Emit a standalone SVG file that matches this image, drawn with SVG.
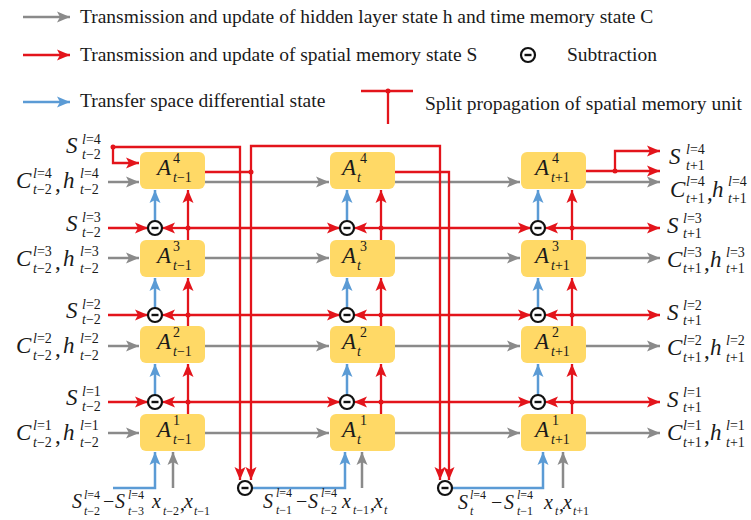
<svg xmlns="http://www.w3.org/2000/svg" width="751" height="520" viewBox="0 0 751 520">
<defs>
<style>
.lg{font-family:"Liberation Serif","Times New Roman",serif;font-size:19.5px;fill:#1a1a1a}
.M{font-family:"Liberation Serif","Times New Roman",serif;font-style:italic;font-size:23px;fill:#1a1a1a}
.Mb{font-family:"Liberation Serif","Times New Roman",serif;font-style:italic;font-size:20px;fill:#1a1a1a}
.s{font-family:"Liberation Serif","Times New Roman",serif;font-size:14px;fill:#1a1a1a}
.sb{font-family:"Liberation Serif","Times New Roman",serif;font-size:12px;fill:#1a1a1a}
.i{font-style:italic}
.n{font-style:normal}
.box{fill:#FFD966}
.r{stroke:#E3141B;stroke-width:2.3;fill:none}
.g{stroke:#8A8A8A;stroke-width:2.5;fill:none}
.b{stroke:#5B9BD5;stroke-width:2.5;fill:none}
.ra{marker-end:url(#aR)}
.ga{marker-end:url(#aG)}
.ba{marker-end:url(#aB)}
.sc{fill:#fff;stroke:#111;stroke-width:2.2}
.mn{stroke:#111;stroke-width:2.4}
.dot{fill:#E3141B}
</style>
<marker id="aR" markerUnits="userSpaceOnUse" markerWidth="13" markerHeight="12" viewBox="0 0 13 12" refX="13" refY="6" orient="auto"><path d="M0,0.5 L13,6 L0,11.5 L3,6 z" fill="#E3141B"/></marker>
<marker id="aG" markerUnits="userSpaceOnUse" markerWidth="13" markerHeight="12" viewBox="0 0 13 12" refX="13" refY="6" orient="auto"><path d="M0,0.5 L13,6 L0,11.5 L3,6 z" fill="#8A8A8A"/></marker>
<marker id="aB" markerUnits="userSpaceOnUse" markerWidth="13" markerHeight="12" viewBox="0 0 13 12" refX="13" refY="6" orient="auto"><path d="M0,0.5 L13,6 L0,11.5 L3,6 z" fill="#5B9BD5"/></marker>
</defs>

<g id="legend">
<path class="g ga" d="M23,17 H70"/>
<text class="lg" x="80" y="23">Transmission and update of hidden layer state h and time memory state C</text>
<path class="r ra" d="M23,55 H70"/>
<text class="lg" x="80" y="61">Transmission and update of spatial memory state S</text>
<circle class="sc" cx="528" cy="55" r="7"/><path class="mn" d="M524.5,55 H531.5"/>
<text class="lg" x="567" y="61">Subtraction</text>
<path class="b ba" d="M23,102 H70"/>
<text class="lg" x="80" y="107">Transfer space differential state</text>
<path class="r" d="M361,91 H413 M388,91 V124"/>
<circle class="dot" cx="388" cy="91" r="2.5"/>
<text class="lg" x="425" y="110">Split propagation of spatial memory unit</text>
</g>

<g id="connectors">
<g id="gray-lines">
<path class="g ga" d="M108,182 H139"/><path class="g ga" d="M205,182 H329"/><path class="g ga" d="M395,182 H520"/><path class="g ga" d="M586,182 H660"/>
<path class="g ga" d="M108,258 H139"/><path class="g ga" d="M205,258 H329"/><path class="g ga" d="M395,258 H520"/><path class="g ga" d="M586,258 H660"/>
<path class="g ga" d="M108,346 H139"/><path class="g ga" d="M205,346 H329"/><path class="g ga" d="M395,346 H520"/><path class="g ga" d="M586,346 H660"/>
<path class="g ga" d="M108,433 H139"/><path class="g ga" d="M205,433 H329"/><path class="g ga" d="M395,433 H520"/><path class="g ga" d="M586,433 H660"/>
<path class="g ga" d="M173,488 V452"/><path class="g ga" d="M362,488 V452"/><path class="g ga" d="M563,488 V452"/>
</g>
<g id="red-lines">
<path class="r ra" d="M113,147 H240 V480"/>
<path class="r ra" d="M113,147 V163 H139"/>
<path class="r" d="M204,172 H251"/>
<path class="r ra" d="M251,172 V480"/>
<path class="r ra" d="M251,172 V146 H440 V480"/>
<path class="r ra" d="M394,172 H449 V480"/>
<path class="r ra" d="M586,171 H660"/>
<path class="r ra" d="M615,171 V151 H660"/>

<path class="r ra" d="M108,228 H148"/><path class="r ra" d="M188,228 H162"/><path class="r ra" d="M188,228 H340"/><path class="r ra" d="M381,228 H354"/><path class="r ra" d="M381,228 H531"/><path class="r ra" d="M572,228 H545"/><path class="r ra" d="M572,228 H660"/>
<path class="r ra" d="M108,315 H148"/><path class="r ra" d="M188,315 H162"/><path class="r ra" d="M188,315 H340"/><path class="r ra" d="M381,315 H354"/><path class="r ra" d="M381,315 H531"/><path class="r ra" d="M572,315 H545"/><path class="r ra" d="M572,315 H660"/>
<path class="r ra" d="M108,402 H148"/><path class="r ra" d="M188,402 H162"/><path class="r ra" d="M188,402 H340"/><path class="r ra" d="M381,402 H354"/><path class="r ra" d="M381,402 H531"/><path class="r ra" d="M572,402 H545"/><path class="r ra" d="M572,402 H660"/>

<path class="r ra" d="M188,240 V190"/><path class="r ra" d="M188,326 V278"/><path class="r ra" d="M188,414 V364"/>
<path class="r ra" d="M381,240 V190"/><path class="r ra" d="M381,326 V278"/><path class="r ra" d="M381,414 V364"/>
<path class="r ra" d="M572,240 V190"/><path class="r ra" d="M572,326 V278"/><path class="r ra" d="M572,414 V364"/>

<circle class="dot" cx="113" cy="147" r="2.5"/>
<circle class="dot" cx="251" cy="172" r="2.5"/>
<circle class="dot" cx="615" cy="171" r="2.5"/>
<circle class="dot" cx="188" cy="228" r="2.5"/><circle class="dot" cx="381" cy="228" r="2.5"/><circle class="dot" cx="572" cy="228" r="2.5"/>
<circle class="dot" cx="188" cy="315" r="2.5"/><circle class="dot" cx="381" cy="315" r="2.5"/><circle class="dot" cx="572" cy="315" r="2.5"/>
<circle class="dot" cx="188" cy="402" r="2.5"/><circle class="dot" cx="381" cy="402" r="2.5"/><circle class="dot" cx="572" cy="402" r="2.5"/>
</g>
<g id="blue-lines">
<path class="b ba" d="M155,221 V190"/><path class="b ba" d="M155,308 V278"/><path class="b ba" d="M155,395 V364"/>
<path class="b ba" d="M347,221 V190"/><path class="b ba" d="M347,308 V278"/><path class="b ba" d="M347,395 V364"/>
<path class="b ba" d="M538,221 V190"/><path class="b ba" d="M538,308 V278"/><path class="b ba" d="M538,395 V364"/>
<path class="b ba" d="M113,488 H155 V452"/>
<path class="b ba" d="M252,488 H345 V452"/>
<path class="b ba" d="M452,488 H543 V452"/>
</g>
</g>

<g id="sub-circles">
<g id="sub-t-1-3"><circle class="sc" cx="155" cy="228" r="7"/><path class="mn" d="M151.5,228 H158.5"/></g>
<g id="sub-t-1-2"><circle class="sc" cx="155" cy="315" r="7"/><path class="mn" d="M151.5,315 H158.5"/></g>
<g id="sub-t-1-1"><circle class="sc" cx="155" cy="402" r="7"/><path class="mn" d="M151.5,402 H158.5"/></g>
<g id="sub-t-3"><circle class="sc" cx="347" cy="228" r="7"/><path class="mn" d="M343.5,228 H350.5"/></g>
<g id="sub-t-2"><circle class="sc" cx="347" cy="315" r="7"/><path class="mn" d="M343.5,315 H350.5"/></g>
<g id="sub-t-1"><circle class="sc" cx="347" cy="402" r="7"/><path class="mn" d="M343.5,402 H350.5"/></g>
<g id="sub-t+1-3"><circle class="sc" cx="538" cy="228" r="7"/><path class="mn" d="M534.5,228 H541.5"/></g>
<g id="sub-t+1-2"><circle class="sc" cx="538" cy="315" r="7"/><path class="mn" d="M534.5,315 H541.5"/></g>
<g id="sub-t+1-1"><circle class="sc" cx="538" cy="402" r="7"/><path class="mn" d="M534.5,402 H541.5"/></g>
<g id="sub-bottom-t"><circle class="sc" cx="245" cy="488" r="7"/><path class="mn" d="M241.5,488 H248.5"/></g>
<g id="sub-bottom-t+1"><circle class="sc" cx="445" cy="488" r="7"/><path class="mn" d="M441.5,488 H448.5"/></g>
</g>

<g id="node-A-tm1-4"><rect class="box" x="140" y="152" width="65" height="37" rx="6"/><text class="M" x="157" y="175">A</text><text class="s" x="173" y="163">4</text><text class="s" x="173" y="182"><tspan class="i">t</tspan>−1</text></g>
<g id="node-A-tm1-3"><rect class="box" x="140" y="240" width="65" height="37" rx="6"/><text class="M" x="157" y="263">A</text><text class="s" x="173" y="251">3</text><text class="s" x="173" y="270"><tspan class="i">t</tspan>−1</text></g>
<g id="node-A-tm1-2"><rect class="box" x="140" y="326" width="65" height="37" rx="6"/><text class="M" x="157" y="349">A</text><text class="s" x="173" y="337">2</text><text class="s" x="173" y="356"><tspan class="i">t</tspan>−1</text></g>
<g id="node-A-tm1-1"><rect class="box" x="140" y="414" width="65" height="37" rx="6"/><text class="M" x="157" y="437">A</text><text class="s" x="173" y="425">1</text><text class="s" x="173" y="444"><tspan class="i">t</tspan>−1</text></g>

<g id="node-A-t-4"><rect class="box" x="330" y="152" width="65" height="37" rx="6"/><text class="M" x="342" y="175">A</text><text class="s" x="360" y="163">4</text><text class="s i" x="357" y="182">t</text></g>
<g id="node-A-t-3"><rect class="box" x="330" y="240" width="65" height="37" rx="6"/><text class="M" x="342" y="263">A</text><text class="s" x="360" y="251">3</text><text class="s i" x="357" y="270">t</text></g>
<g id="node-A-t-2"><rect class="box" x="330" y="326" width="65" height="37" rx="6"/><text class="M" x="342" y="349">A</text><text class="s" x="360" y="337">2</text><text class="s i" x="357" y="356">t</text></g>
<g id="node-A-t-1"><rect class="box" x="330" y="414" width="65" height="37" rx="6"/><text class="M" x="342" y="437">A</text><text class="s" x="360" y="425">1</text><text class="s i" x="357" y="444">t</text></g>

<g id="node-A-tp1-4"><rect class="box" x="521" y="152" width="65" height="37" rx="6"/><text class="M" x="535" y="175">A</text><text class="s" x="552" y="163">4</text><text class="s" x="551" y="182"><tspan class="i">t</tspan>+1</text></g>
<g id="node-A-tp1-3"><rect class="box" x="521" y="240" width="65" height="37" rx="6"/><text class="M" x="535" y="263">A</text><text class="s" x="552" y="251">3</text><text class="s" x="551" y="270"><tspan class="i">t</tspan>+1</text></g>
<g id="node-A-tp1-2"><rect class="box" x="521" y="326" width="65" height="37" rx="6"/><text class="M" x="535" y="349">A</text><text class="s" x="552" y="337">2</text><text class="s" x="551" y="356"><tspan class="i">t</tspan>+1</text></g>
<g id="node-A-tp1-1"><rect class="box" x="521" y="414" width="65" height="37" rx="6"/><text class="M" x="535" y="437">A</text><text class="s" x="552" y="425">1</text><text class="s" x="551" y="444"><tspan class="i">t</tspan>+1</text></g>

<g id="labels-left">
<text class="M" x="66" y="153">S</text><text class="s" x="82" y="144"><tspan class="i">l</tspan>=4</text><text class="s" x="82" y="159"><tspan class="i">t</tspan>−2</text>
<text class="M" x="16" y="188">C</text><text class="s" x="33" y="178"><tspan class="i">l</tspan>=4</text><text class="s" x="33" y="194"><tspan class="i">t</tspan>−2</text><text class="M n" x="55" y="191">,</text><text class="M" x="63" y="188">h</text><text class="s" x="80" y="178"><tspan class="i">l</tspan>=4</text><text class="s" x="80" y="194"><tspan class="i">t</tspan>−2</text>
<text class="M" x="66" y="231">S</text><text class="s" x="82" y="222"><tspan class="i">l</tspan>=3</text><text class="s" x="82" y="237"><tspan class="i">t</tspan>−2</text>
<text class="M" x="16" y="266">C</text><text class="s" x="33" y="256"><tspan class="i">l</tspan>=3</text><text class="s" x="33" y="273"><tspan class="i">t</tspan>−2</text><text class="M n" x="55" y="269">,</text><text class="M" x="63" y="266">h</text><text class="s" x="80" y="256"><tspan class="i">l</tspan>=3</text><text class="s" x="80" y="273"><tspan class="i">t</tspan>−2</text>
<text class="M" x="66" y="318">S</text><text class="s" x="82" y="309"><tspan class="i">l</tspan>=2</text><text class="s" x="82" y="324"><tspan class="i">t</tspan>−2</text>
<text class="M" x="16" y="353">C</text><text class="s" x="33" y="343"><tspan class="i">l</tspan>=2</text><text class="s" x="33" y="360"><tspan class="i">t</tspan>−2</text><text class="M n" x="55" y="356">,</text><text class="M" x="63" y="353">h</text><text class="s" x="80" y="343"><tspan class="i">l</tspan>=2</text><text class="s" x="80" y="360"><tspan class="i">t</tspan>−2</text>
<text class="M" x="66" y="405">S</text><text class="s" x="82" y="396"><tspan class="i">l</tspan>=1</text><text class="s" x="82" y="411"><tspan class="i">t</tspan>−2</text>
<text class="M" x="16" y="440">C</text><text class="s" x="33" y="430"><tspan class="i">l</tspan>=1</text><text class="s" x="33" y="447"><tspan class="i">t</tspan>−2</text><text class="M n" x="55" y="443">,</text><text class="M" x="63" y="440">h</text><text class="s" x="80" y="430"><tspan class="i">l</tspan>=1</text><text class="s" x="80" y="447"><tspan class="i">t</tspan>−2</text>
</g>

<g id="labels-right">
<text class="M" x="669" y="164">S</text><text class="s" x="686" y="154"><tspan class="i">l</tspan>=4</text><text class="s" x="686" y="170"><tspan class="i">t</tspan>+1</text>
<text class="M" x="670" y="197">C</text><text class="s" x="686" y="186"><tspan class="i">l</tspan>=4</text><text class="s" x="686" y="203"><tspan class="i">t</tspan>+1</text><text class="M n" x="707" y="200">,</text><text class="M" x="712" y="197">h</text><text class="s" x="728" y="186"><tspan class="i">l</tspan>=4</text><text class="s" x="728" y="203"><tspan class="i">t</tspan>+1</text>
<text class="M" x="667" y="233">S</text><text class="s" x="683" y="223"><tspan class="i">l</tspan>=3</text><text class="s" x="683" y="238"><tspan class="i">t</tspan>+1</text>
<text class="M" x="667" y="267">C</text><text class="s" x="683" y="257"><tspan class="i">l</tspan>=3</text><text class="s" x="683" y="273"><tspan class="i">t</tspan>+1</text><text class="M n" x="704" y="270">,</text><text class="M" x="710" y="267">h</text><text class="s" x="726" y="257"><tspan class="i">l</tspan>=3</text><text class="s" x="726" y="273"><tspan class="i">t</tspan>+1</text>
<text class="M" x="667" y="320">S</text><text class="s" x="683" y="310"><tspan class="i">l</tspan>=2</text><text class="s" x="683" y="325"><tspan class="i">t</tspan>+1</text>
<text class="M" x="667" y="355">C</text><text class="s" x="683" y="345"><tspan class="i">l</tspan>=2</text><text class="s" x="683" y="362"><tspan class="i">t</tspan>+1</text><text class="M n" x="704" y="358">,</text><text class="M" x="710" y="355">h</text><text class="s" x="726" y="345"><tspan class="i">l</tspan>=2</text><text class="s" x="726" y="362"><tspan class="i">t</tspan>+1</text>
<text class="M" x="667" y="407">S</text><text class="s" x="683" y="397"><tspan class="i">l</tspan>=1</text><text class="s" x="683" y="412"><tspan class="i">t</tspan>+1</text>
<text class="M" x="667" y="440">C</text><text class="s" x="683" y="430"><tspan class="i">l</tspan>=1</text><text class="s" x="683" y="447"><tspan class="i">t</tspan>+1</text><text class="M n" x="704" y="443">,</text><text class="M" x="710" y="440">h</text><text class="s" x="726" y="430"><tspan class="i">l</tspan>=1</text><text class="s" x="726" y="447"><tspan class="i">t</tspan>+1</text>
</g>

<g id="labels-bottom">
<text class="Mb" x="72" y="508">S</text><text class="sb" x="84" y="499"><tspan class="i">l</tspan>=4</text><text class="sb" x="84" y="515"><tspan class="i">t</tspan>−2</text>
<text class="Mb n" x="103" y="508">−</text>
<text class="Mb" x="115" y="508">S</text><text class="sb" x="128" y="499"><tspan class="i">l</tspan>=4</text><text class="sb" x="128" y="515"><tspan class="i">t</tspan>−3</text>
<text class="Mb" x="152" y="508">x</text><text class="sb" x="163" y="515"><tspan class="i">t</tspan>−2</text><text class="Mb n" x="180" y="510">,</text><text class="Mb" x="184" y="508">x</text><text class="sb" x="194" y="515"><tspan class="i">t</tspan>−1</text>

<text class="Mb" x="263" y="508">S</text><text class="sb" x="276" y="497"><tspan class="i">l</tspan>=4</text><text class="sb" x="276" y="514"><tspan class="i">t</tspan>−1</text>
<text class="Mb n" x="296" y="508">−</text>
<text class="Mb" x="308" y="508">S</text><text class="sb" x="321" y="497"><tspan class="i">l</tspan>=4</text><text class="sb" x="321" y="514"><tspan class="i">t</tspan>−2</text>
<text class="Mb" x="342" y="508">x</text><text class="sb" x="353" y="514"><tspan class="i">t</tspan>−1</text><text class="Mb n" x="370" y="510">,</text><text class="Mb" x="374" y="508">x</text><text class="sb i" x="384" y="514">t</text>

<text class="Mb" x="458" y="509">S</text><text class="sb" x="470" y="499"><tspan class="i">l</tspan>=4</text><text class="sb i" x="470" y="515">t</text>
<text class="Mb n" x="491" y="509">−</text>
<text class="Mb" x="504" y="509">S</text><text class="sb" x="517" y="499"><tspan class="i">l</tspan>=4</text><text class="sb" x="517" y="515"><tspan class="i">t</tspan>−1</text>
<text class="Mb" x="544" y="509">x</text><text class="sb i" x="555" y="515">t</text><text class="Mb n" x="559" y="511">,</text><text class="Mb" x="563" y="509">x</text><text class="sb" x="573" y="515"><tspan class="i">t</tspan>+1</text>
</g>
</svg>
